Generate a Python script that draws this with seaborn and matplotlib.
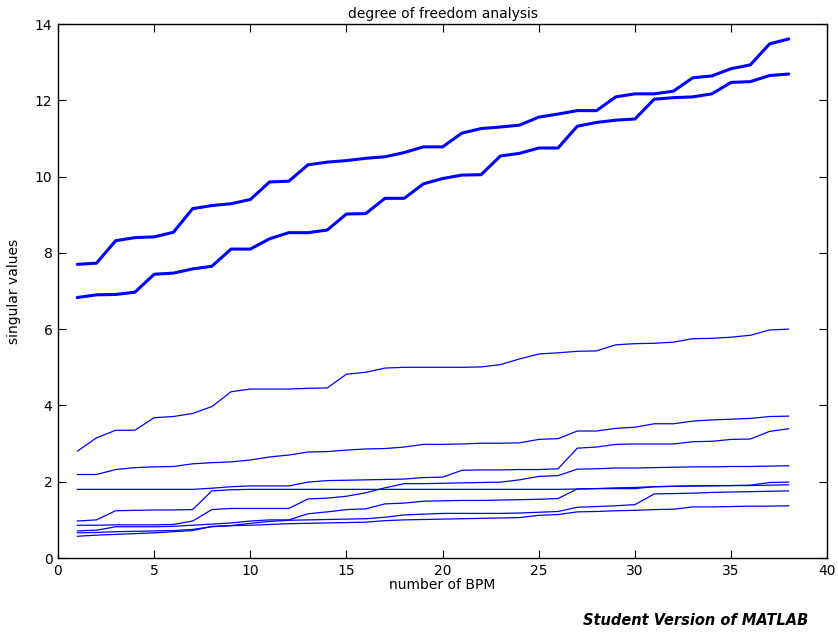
import matplotlib
matplotlib.use("Agg")
import matplotlib.pyplot as plt
import seaborn as sns

# number of BPM on the x axis
bpm = list(range(1, 39))

# two largest singular values (thick lines)
sv1 = [7.70, 7.73, 8.32, 8.40, 8.42, 8.54, 9.16, 9.24, 9.29, 9.40,
       9.86, 9.88, 10.31, 10.38, 10.42, 10.48, 10.52, 10.63, 10.78, 10.78,
       11.14, 11.26, 11.30, 11.35, 11.56, 11.64, 11.73, 11.73, 12.09, 12.17,
       12.17, 12.24, 12.59, 12.64, 12.83, 12.93, 13.48, 13.61]
sv2 = [6.83, 6.90, 6.91, 6.97, 7.44, 7.47, 7.58, 7.65, 8.10, 8.10,
       8.37, 8.53, 8.53, 8.60, 9.02, 9.03, 9.43, 9.43, 9.81, 9.95,
       10.04, 10.05, 10.54, 10.61, 10.75, 10.75, 11.32, 11.42, 11.48, 11.51,
       12.03, 12.07, 12.09, 12.17, 12.47, 12.49, 12.65, 12.69]

# remaining singular values (thin lines)
sv3 = [2.80, 3.15, 3.35, 3.35, 3.68, 3.71, 3.79, 3.97, 4.36, 4.43,
       4.43, 4.43, 4.45, 4.46, 4.82, 4.87, 4.98, 5.00, 5.00, 5.00,
       5.00, 5.01, 5.07, 5.22, 5.35, 5.38, 5.42, 5.43, 5.59, 5.62,
       5.63, 5.66, 5.75, 5.76, 5.79, 5.84, 5.98, 6.00]
sv4 = [2.19, 2.19, 2.32, 2.37, 2.39, 2.40, 2.47, 2.50, 2.52, 2.57,
       2.65, 2.70, 2.78, 2.79, 2.83, 2.86, 2.87, 2.91, 2.98, 2.98,
       2.99, 3.01, 3.01, 3.02, 3.11, 3.13, 3.33, 3.33, 3.40, 3.43,
       3.52, 3.52, 3.59, 3.62, 3.64, 3.66, 3.71, 3.72]
sv5 = [1.80, 1.80, 1.80, 1.80, 1.80, 1.80, 1.80, 1.83, 1.87, 1.89,
       1.89, 1.89, 1.99, 2.03, 2.04, 2.05, 2.06, 2.07, 2.11, 2.12,
       2.30, 2.31, 2.31, 2.32, 2.32, 2.34, 2.88, 2.91, 2.98, 2.99,
       2.99, 2.99, 3.05, 3.06, 3.11, 3.12, 3.32, 3.39]
sv6 = [0.97, 1.00, 1.24, 1.25, 1.26, 1.26, 1.27, 1.76, 1.79, 1.80,
       1.80, 1.80, 1.80, 1.80, 1.80, 1.80, 1.80, 1.80, 1.80, 1.80,
       1.80, 1.80, 1.80, 1.80, 1.80, 1.80, 1.81, 1.82, 1.84, 1.85,
       1.87, 1.88, 1.89, 1.89, 1.90, 1.90, 1.91, 1.92]
sv7 = [0.86, 0.86, 0.87, 0.87, 0.87, 0.88, 0.97, 1.27, 1.30, 1.30,
       1.30, 1.30, 1.55, 1.57, 1.62, 1.71, 1.84, 1.95, 1.95, 1.96,
       1.97, 1.98, 1.99, 2.05, 2.14, 2.16, 2.33, 2.34, 2.36, 2.36,
       2.37, 2.38, 2.39, 2.39, 2.40, 2.40, 2.41, 2.42]
sv8 = [0.71, 0.73, 0.82, 0.82, 0.82, 0.83, 0.86, 0.89, 0.92, 0.97,
       1.00, 1.00, 1.16, 1.21, 1.27, 1.29, 1.42, 1.44, 1.49, 1.50,
       1.51, 1.51, 1.52, 1.53, 1.54, 1.56, 1.81, 1.82, 1.82, 1.82,
       1.87, 1.88, 1.89, 1.90, 1.90, 1.91, 1.98, 1.99]
sv9 = [0.66, 0.67, 0.69, 0.70, 0.71, 0.72, 0.75, 0.82, 0.85, 0.91,
       0.96, 0.99, 1.00, 1.01, 1.02, 1.03, 1.07, 1.13, 1.15, 1.17,
       1.17, 1.17, 1.17, 1.18, 1.20, 1.22, 1.33, 1.35, 1.37, 1.40,
       1.68, 1.69, 1.70, 1.72, 1.73, 1.74, 1.75, 1.76]
sv10 = [0.57, 0.60, 0.62, 0.64, 0.66, 0.69, 0.72, 0.83, 0.85, 0.86,
        0.88, 0.90, 0.91, 0.92, 0.93, 0.94, 0.98, 1.00, 1.01, 1.02,
        1.03, 1.04, 1.05, 1.06, 1.12, 1.14, 1.21, 1.22, 1.24, 1.25,
        1.27, 1.28, 1.34, 1.34, 1.35, 1.36, 1.36, 1.37]

thick = [sv1, sv2]
thin = [sv3, sv4, sv5, sv6, sv7, sv8, sv9, sv10]

x_ticks = [0, 5, 10, 15, 20, 25, 30, 35, 40]
y_ticks = [0, 2, 4, 6, 8, 10, 12, 14]

sns.set_style("ticks")
plt.rcParams['font.family'] = ['DejaVu Sans']
plt.rcParams['text.color'] = 'black'
plt.rcParams['axes.labelcolor'] = 'black'

fig = plt.figure(figsize=(8.38, 6.36), dpi=100)
ax = fig.add_axes([0.0692, 0.1226, 0.918, 0.8396])

for s in thick:
    sns.lineplot(x=bpm, y=s, color='#0000ff', linewidth=2.2, ax=ax)
for s in thin:
    sns.lineplot(x=bpm, y=s, color='#0000ff', linewidth=0.9, ax=ax)

ax.set_xlim(0, 40)
ax.set_ylim(0, 14)
ax.set_xticks(x_ticks)
ax.set_yticks(y_ticks)
ax.tick_params(direction='in', top=True, right=True, length=5.5, width=0.8,
               labelsize=10, pad=4, colors='black')
for sp in ax.spines.values():
    sp.set_linewidth(1.0)
    sp.set_color('black')

ax.set_title("degree of freedom analysis", fontsize=10, pad=4, color='black')
ax.set_xlabel("number of BPM", fontsize=10, labelpad=0)
ax.set_ylabel("singular values", fontsize=10, labelpad=10)

fig.text(0.964, 0.012, "Student Version of MATLAB", ha='right', va='bottom',
         fontsize=10.5, fontweight='bold', fontstyle='italic', color='black')

fig.savefig("out.png", dpi=100)
plt.close(fig)
